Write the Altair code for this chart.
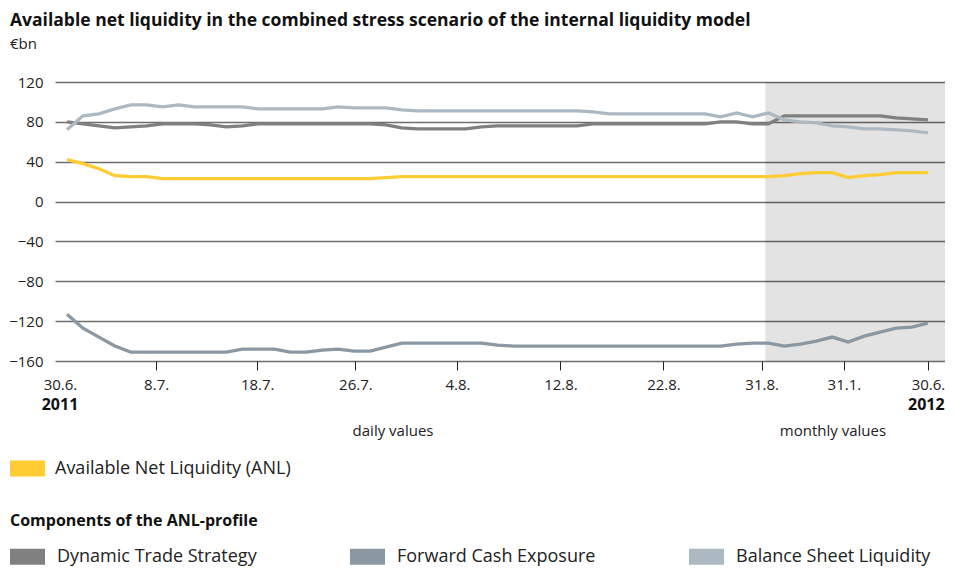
import altair as alt
import pandas as pd

FONT = "Open Sans"

chart_title = "Available net liquidity in the combined stress scenario of the internal liquidity model"
unit_label = "€bn"

series_names = [
    "Available Net Liquidity (ANL)",
    "Dynamic Trade Strategy",
    "Forward Cash Exposure",
    "Balance Sheet Liquidity",
]
series_colors = ["#ffcc33", "#808080", "#8a98a3", "#adb9c2"]
components_title = ["Components of the ANL-profile"]

# daily values 30.6.2011 - 31.8.2011 (45 points), then monthly Sep 2011 - Jun 2012 (10 points)
anl = [42, 38, 33, 26, 25, 25, 23, 23, 23, 23, 23, 23, 23, 23, 23, 23, 23, 23, 23, 23,
       24, 25, 25, 25, 25, 25, 25, 25, 25, 25, 25, 25, 25, 25, 25, 25, 25, 25, 25, 25,
       25, 25, 25, 25, 25,
       26, 28, 29, 29, 24, 26, 27, 29, 29, 29]
dts = [80, 78, 76, 74, 75, 76, 78, 78, 78, 77, 75, 76, 78, 78, 78, 78, 78, 78, 78, 78,
       77, 74, 73, 73, 73, 73, 75, 76, 76, 76, 76, 76, 76, 78, 78, 78, 78, 78, 78, 78,
       78, 80, 80, 78, 78,
       86, 86, 86, 86, 86, 86, 86, 84, 83, 82]
fce = [-113, -127, -136, -145, -151, -151, -151, -151, -151, -151, -151, -148, -148, -148,
       -151, -151, -149, -148, -150, -150, -146, -142, -142, -142, -142, -142, -142, -144,
       -145, -145, -145, -145, -145, -145, -145, -145, -145, -145, -145, -145, -145, -145,
       -143, -142, -142,
       -145, -143, -140, -136, -141, -135, -131, -127, -126, -122]
bsl = [72, 86, 88, 93, 97, 97, 95, 97, 95, 95, 95, 95, 93, 93, 93, 93, 93, 95, 94, 94,
       94, 92, 91, 91, 91, 91, 91, 91, 91, 91, 91, 91, 91, 90, 88, 88, 88, 88, 88, 88,
       88, 85, 89, 85, 89,
       82, 80, 79, 76, 75, 73, 73, 72, 71, 69]

tick_pos = [-0.44, 5.59, 11.93, 18.09, 24.49, 30.95, 37.41, 43.57, 48.73, 54]
tick_labels = ["30.6.", "8.7.", "18.7.", "26.7.", "4.8.", "12.8.", "22.8.", "31.8.", "31.1.", "30.6."]
year_pos = [-0.44, 53.9]
year_labels = ["2011", "2012"]
period_pos = [20.45, 48.04]
period_labels = ["daily values", "monthly values"]
shade_from = [43.8]
shade_to = [55.2]
y_ticks = [-160, -120, -80, -40, 0, 40, 80, 120]

W, H = 890, 279

rows = []
for name, vals in zip(series_names, [anl, dts, fce, bsl]):
    for i, v in enumerate(vals):
        rows.append({"t": i, "v": v, "series": name})
df = pd.DataFrame(rows)

xscale = alt.Scale(domain=[-0.753, 55.07], nice=False, zero=False)
yscale = alt.Scale(domain=[-160, 120], nice=False, zero=False)

label_expr = ("[" + ",".join(f"'{l}'" for l in tick_labels) + "][indexof(["
              + ",".join(str(p) for p in tick_pos) + "], datum.value)]")

x_axis = alt.Axis(values=tick_pos, labelExpr=label_expr, grid=False, domain=False,
                  ticks=True, tickColor="#222222", tickSize=9, tickWidth=1,
                  tickOpacity=alt.condition("datum.value < 0", alt.value(0), alt.value(1)),
                  labelPadding=7, labelFontSize=15, labelFont=FONT, labelColor="#222222",
                  labelFlush=False, labelOverlap=False, title=None)
y_axis = alt.Axis(values=y_ticks, grid=True, gridColor="#6e6e6e", gridWidth=1.5,
                  domain=False, ticks=False, labelPadding=12, labelFontSize=15,
                  labelFont=FONT, labelColor="#222222", title=None)

shade = alt.Chart(pd.DataFrame({"a": shade_from, "b": shade_to})).mark_rect(
    color="#000000", opacity=0.11, clip=True
).encode(
    x=alt.X("a:Q", scale=xscale, axis=x_axis),
    x2="b:Q",
    y=alt.value(0),
    y2=alt.value(H),
)

comp = alt.Chart(df[df.series != series_names[0]]).mark_line(strokeWidth=3.3, strokeCap="butt").encode(
    x=alt.X("t:Q", scale=xscale, axis=x_axis),
    y=alt.Y("v:Q", scale=yscale, axis=y_axis),
    stroke=alt.Stroke("series:N",
                      scale=alt.Scale(domain=series_names[1:], range=series_colors[1:]),
                      sort=series_names[1:],
                      legend=alt.Legend(title=None, orient="none", direction="horizontal",
                                        columns=3, legendX=-53, legendY=449,
                                        symbolType="stroke", symbolSize=1225, symbolStrokeWidth=16,
                                        labelFontSize=18, labelFont=FONT, labelColor="#222222",
                                        labelOffset=4, labelLimit=450,
                                        columnPadding=61, padding=0)),
    order="t:Q",
)

anl_line = alt.Chart(df[df.series == series_names[0]]).mark_line(strokeWidth=3.3, strokeCap="butt").encode(
    x=alt.X("t:Q", scale=xscale, axis=x_axis),
    y=alt.Y("v:Q", scale=yscale, axis=y_axis),
    color=alt.Color("series:N",
                    scale=alt.Scale(domain=series_names[:1], range=series_colors[:1]),
                    legend=alt.Legend(title=None, orient="none", legendX=-53, legendY=361,
                                      symbolType="stroke", symbolSize=1225, symbolStrokeWidth=16,
                                      labelFontSize=18, labelFont=FONT, labelColor="#222222",
                                      labelOffset=2, labelLimit=400, padding=0)),
    order="t:Q",
)

years = alt.Chart(pd.DataFrame({"p": year_pos, "l": year_labels})).mark_text(
    fontSize=16, fontWeight="bold", font=FONT, color="#111111", baseline="middle"
).encode(x=alt.X("p:Q", scale=xscale, axis=x_axis), y=alt.value(323), text="l:N")

periods = alt.Chart(pd.DataFrame({"p": period_pos, "l": period_labels})).mark_text(
    fontSize=15, font=FONT, color="#222222", baseline="middle"
).encode(x=alt.X("p:Q", scale=xscale, axis=x_axis), y=alt.value(349), text="l:N")

comp_heading = alt.Chart(pd.DataFrame({"l": components_title})).mark_text(
    fontSize=16, fontWeight="bold", font=FONT, color="#111111", baseline="middle", align="left"
).encode(x=alt.value(-45), y=alt.value(439), text="l:N")

chart = alt.layer(shade, comp, anl_line, years, periods, comp_heading).resolve_scale(
    color="independent", stroke="independent"
).properties(
    width=W, height=H,
    title=alt.TitleParams(text=chart_title, subtitle=unit_label, anchor="start", frame="group",
                          dx=-45, offset=23, fontSize=17.5, fontWeight="bold", font=FONT,
                          color="#111111", subtitleFont=FONT, subtitleFontSize=15,
                          subtitleColor="#222222", subtitlePadding=8),
    autosize=alt.AutoSizeParams(type="none"),
    padding={"left": 47, "top": 74, "right": 0, "bottom": 207},
).configure_view(stroke=None)

chart.save("out.html", embed_options={"renderer": "svg", "actions": False})
